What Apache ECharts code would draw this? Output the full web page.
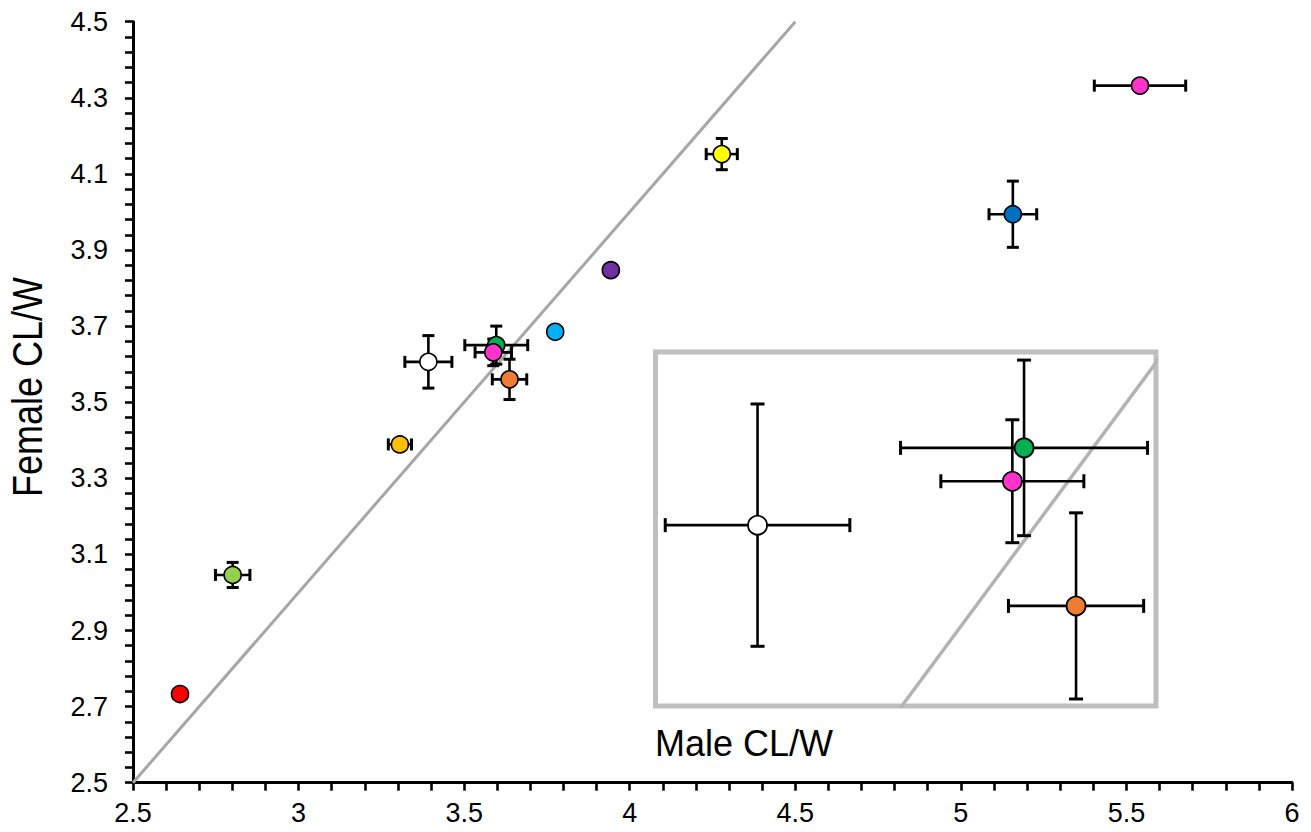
<!DOCTYPE html>
<html>
<head>
<meta charset="utf-8">
<script src="https://cdn.jsdelivr.net/npm/echarts@6/dist/echarts.min.js"></script>
<style>
html,body{margin:0;padding:0;background:#fff;}
#chart{width:1311px;height:832px;}
</style>
</head>
<body>
<div id="chart"></div>
<script>
// ---- data ----
var maleCLW   = [2.642, 2.801, 3.306, 3.392, 3.597, 3.588, 3.637, 3.775, 3.943, 4.278, 5.157, 5.541];
var femaleCLW = [2.733, 3.046, 3.389, 3.606, 3.650, 3.631, 3.560, 3.685, 3.847, 4.152, 3.994, 4.332];
var maleErr   = [0,     0.052, 0.035, 0.071, 0.095, 0.055, 0.052, 0,     0,     0.047, 0.072, 0.138];
var femaleErr = [0,     0.033, 0,     0.069, 0.050, 0.035, 0.053, 0,     0,     0.041, 0.087, 0];
var pointColors = ['#ff0000','#92d050','#ffc000','#ffffff','#00b050','#ff33cc','#ed7d31','#00b0f0','#7030a0','#ffff00','#0070c0','#ff33cc'];
var insetIndex = [3, 4, 5, 6];
var xTickLabels = [2.5, 3, 3.5, 4, 4.5, 5, 5.5, 6];
var yTickLabels = [2.5, 2.7, 2.9, 3.1, 3.3, 3.5, 3.7, 3.9, 4.1, 4.3, 4.5];
var xAxisTitle = 'Male CL/W';
var yAxisTitle = 'Female CL/W';

// ---- build ----
function minorTicks(a, b, step) {
  var out = [];
  var n = Math.round((b - a) / step);
  for (var i = 0; i <= n; i++) out.push(Math.round((a + i * step) * 1000) / 1000);
  return out;
}
var FONT = 'Liberation Sans, Arial, sans-serif';

function rows(idx) {
  return idx.map(function (i) { return [maleCLW[i], femaleCLW[i], maleErr[i], femaleErr[i]]; });
}
function pts(idx) {
  return idx.map(function (i) {
    return { value: [maleCLW[i], femaleCLW[i]], itemStyle: { color: pointColors[i] } };
  });
}
var allIdx = maleCLW.map(function (_, i) { return i; });

function errRender(capHalf) {
  return function (params, api) {
    var x = api.value(0), y = api.value(1), ex = api.value(2), ey = api.value(3);
    var st = { stroke: '#000', lineWidth: 2.6 };
    var cs = { stroke: '#000', lineWidth: 3 };
    var ch = [];
    if (ex > 0) {
      var l = api.coord([x - ex, y]), r = api.coord([x + ex, y]);
      ch.push({ type: 'line', shape: { x1: l[0], y1: l[1], x2: r[0], y2: r[1] }, style: st });
      ch.push({ type: 'line', shape: { x1: l[0], y1: l[1] - capHalf, x2: l[0], y2: l[1] + capHalf }, style: cs });
      ch.push({ type: 'line', shape: { x1: r[0], y1: r[1] - capHalf, x2: r[0], y2: r[1] + capHalf }, style: cs });
    }
    if (ey > 0) {
      var t = api.coord([x, y + ey]), b = api.coord([x, y - ey]);
      ch.push({ type: 'line', shape: { x1: t[0], y1: t[1], x2: b[0], y2: b[1] }, style: st });
      ch.push({ type: 'line', shape: { x1: t[0] - capHalf, y1: t[1], x2: t[0] + capHalf, y2: t[1] }, style: cs });
      ch.push({ type: 'line', shape: { x1: b[0] - capHalf, y1: b[1], x2: b[0] + capHalf, y2: b[1] }, style: cs });
    }
    return { type: 'group', children: ch };
  };
}

var chart = echarts.init(document.getElementById('chart'), null, { renderer: 'svg' });
chart.setOption({
  animation: false,
  backgroundColor: '#fff',
  grid: [
    { left: 133, top: 21.7, width: 1159, height: 761 },
    { left: 655.5, top: 352, width: 500.5, height: 354, show: true, borderColor: '#bfbfbf', borderWidth: 5, backgroundColor: '#fff', z: 3 }
  ],
  xAxis: [
    {
      gridIndex: 0, type: 'value', min: 2.5, max: 6,
      axisLine: { lineStyle: { color: '#000', width: 3 } },
      axisTick: { show: true, inside: false, length: 8, lineStyle: { color: '#000', width: 2.6 }, customValues: minorTicks(2.5, 6, 0.1) },
      axisLabel: { customValues: xTickLabels, color: '#000', fontSize: 27, fontFamily: FONT, margin: 17, formatter: function (v) { return String(v); } },
      splitLine: { show: false }
    },
    { gridIndex: 1, type: 'value', min: 3.3135, max: 3.6985, show: false }
  ],
  yAxis: [
    {
      gridIndex: 0, type: 'value', min: 2.5, max: 4.5,
      axisLine: { show: true, lineStyle: { color: '#000', width: 3 } },
      axisTick: { show: true, inside: false, length: 8, lineStyle: { color: '#000', width: 2.6 }, customValues: minorTicks(2.5, 4.5, 0.04) },
      axisLabel: { customValues: yTickLabels, color: '#000', fontSize: 27, fontFamily: FONT, margin: 25, formatter: function (v) { return String(v); } },
      splitLine: { show: false }
    },
    { gridIndex: 1, type: 'value', min: 3.503, max: 3.7046, show: false }
  ],
  series: [
    {
      type: 'line', xAxisIndex: 0, yAxisIndex: 0, data: [[2.5, 2.5], [4.5, 4.5]],
      symbol: 'none', lineStyle: { color: '#a6a6a6', width: 3 }, z: 1, silent: true
    },
    {
      type: 'custom', xAxisIndex: 0, yAxisIndex: 0, data: rows(allIdx),
      encode: { x: 0, y: 1 }, renderItem: errRender(6), clip: false, z: 2, silent: true
    },
    {
      type: 'scatter', xAxisIndex: 0, yAxisIndex: 0, data: pts(allIdx),
      symbolSize: 17, itemStyle: { borderColor: '#000', borderWidth: 1.6, opacity: 1 }, z: 3, silent: true
    },
    {
      type: 'line', xAxisIndex: 1, yAxisIndex: 1, data: [[3.3, 3.3], [3.75, 3.75]],
      symbol: 'none', lineStyle: { color: '#b3b3b3', width: 3.5 }, z: 4, clip: true, silent: true
    },
    {
      type: 'custom', xAxisIndex: 1, yAxisIndex: 1, data: rows(insetIndex),
      encode: { x: 0, y: 1 }, renderItem: errRender(7), clip: false, z: 5, silent: true
    },
    {
      type: 'scatter', xAxisIndex: 1, yAxisIndex: 1, data: pts(insetIndex),
      symbolSize: 19, itemStyle: { borderColor: '#000', borderWidth: 1.8, opacity: 1 }, z: 6, silent: true
    }
  ],
  graphic: [
    {
      type: 'text', left: 655, top: 746 - 21, z: 10,
      style: { text: xAxisTitle, fill: '#000', font: '36px ' + FONT }
    },
    {
      type: 'text', x: 27.5, y: 387, rotation: Math.PI / 2, scaleY: 1.17, z: 10,
      style: { text: yAxisTitle, fill: '#000', font: '36px ' + FONT, align: 'center', verticalAlign: 'middle' }
    }
  ]
});
</script>
</body>
</html>
